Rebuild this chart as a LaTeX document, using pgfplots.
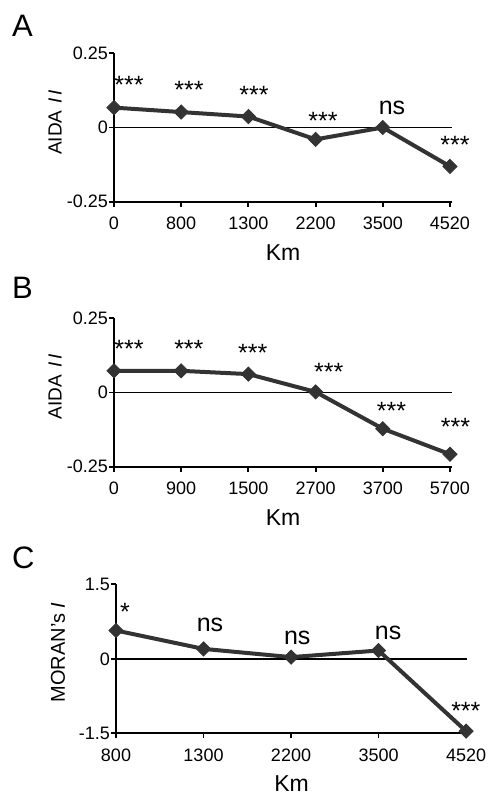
\documentclass[border=0pt]{standalone}
\usepackage{pgfplots}
\pgfplotsset{compat=1.18}
\usepackage{fontspec}
\setmainfont{Liberation Sans}
\definecolor{dg}{HTML}{333333}
\pgfplotsset{
  panel/.style={
    scale only axis, clip=false,
    axis x line=bottom, axis y line=left,
    axis line style={-, line width=1.9pt, black},
    tick style={line width=1.9pt, black},
    tick align=outside,
    major tick length=5pt,
    tick label style={font=\fontsize{18}{18}\selectfont},
    yticklabel style={inner sep=0pt, xshift=-1pt},
    xticklabel style={inner sep=0pt, yshift=-10pt},
    xlabel style={anchor=base, font=\fontsize{23}{23}\selectfont},
    ylabel style={anchor=center, font=\fontsize{19}{19}\selectfont},
  },
  dataline/.style={dg, line width=4pt, mark=square*, mark size=5pt,
    mark options={rotate=45, line width=0.8pt, fill=dg, solid}},
  zeroline/.style={black, line width=1.6pt, no marks, forget plot},
}
\tikzset{anno/.style={anchor=base, inner sep=0pt, font=\fontsize{25}{25}\selectfont},
  letter/.style={anchor=base west, inner sep=0pt, font=\fontsize{31}{31}\selectfont}}
\newcommand{\aida}{AIDA\hspace{7pt}\textit{I}\hspace{3pt}\textit{I}}
\begin{document}
\begin{tikzpicture}
\useasboundingbox (0pt,0pt) rectangle (490pt,-795pt);
\node[letter] at (12pt,-36pt) {A};
\node[letter] at (12pt,-298pt) {B};
\node[letter] at (12pt,-568pt) {C};

% Panel A
\begin{axis}[panel, at={(114pt,-201.7pt)}, anchor=south west,
  width=338pt, height=148.4pt,
  xmin=0, xmax=5.03, ymin=-0.25, ymax=0.25,
  xtick={0,1,2,3,4,5}, xticklabels={0,800,1300,2200,3500,4520},
  ytick={-0.25,0,0.25}, yticklabels={-0.25,0,0.25},
  xlabel={Km}, ylabel={\aida},
  xlabel style={at={(axis description cs:0.5,-0.393)}},
  ylabel style={at={(axis description cs:-0.1746,0.534)}}]
\addplot[zeroline] coordinates {(0,0) (5.03,0)};
\addplot[dataline] coordinates {(0,0.067) (1,0.052) (2,0.037) (3,-0.040) (4,0.0) (5,-0.131)};
\node[anno] at (axis cs:0.223,0.1132) {***};
\node[anno] at (axis cs:1.116,0.0986) {***};
\node[anno] at (axis cs:2.083,0.0794) {***};
\node[anno] at (axis cs:3.110,-0.0051) {***};
\node[anno] at (axis cs:4.137,0.0439) {ns};
\node[anno] at (axis cs:5.074,-0.0872) {***};
\end{axis}

% Panel B
\begin{axis}[panel, at={(114pt,-466.7pt)}, anchor=south west,
  width=338pt, height=148.4pt,
  xmin=0, xmax=5.03, ymin=-0.25, ymax=0.25,
  xtick={0,1,2,3,4,5}, xticklabels={0,900,1500,2700,3700,5700},
  ytick={-0.25,0,0.25}, yticklabels={-0.25,0,0.25},
  xlabel={Km}, ylabel={\aida},
  xlabel style={at={(axis description cs:0.5,-0.393)}},
  ylabel style={at={(axis description cs:-0.1746,0.539)}}]
\addplot[zeroline] coordinates {(0,0) (5.03,0)};
\addplot[dataline] coordinates {(0,0.073) (1,0.073) (2,0.062) (3,0.002) (4,-0.122) (5,-0.208)};
\node[anno] at (axis cs:0.223,0.118) {***};
\node[anno] at (axis cs:1.114,0.118) {***};
\node[anno] at (axis cs:2.065,0.104) {***};
\node[anno] at (axis cs:3.195,0.039) {***};
\node[anno] at (axis cs:4.131,-0.0905) {***};
\node[anno] at (axis cs:5.082,-0.1436) {***};
\end{axis}

% Panel C
\begin{axis}[panel, at={(116pt,-733.3pt)}, anchor=south west,
  width=351pt, height=149pt,
  xmin=0, xmax=4.011, ymin=-1.5, ymax=1.5,
  xtick={0,1,2,3,4}, xticklabels={800,1300,2200,3500,4520},
  ytick={-1.5,0,1.5}, yticklabels={-1.5,0,1.5},
  xlabel={Km}, ylabel={MORAN's \textit{I}},
  ylabel style={font=\fontsize{20}{20}\selectfont},
  xlabel style={at={(axis description cs:0.5,-0.392)}},
  ylabel style={at={(axis description cs:-0.165,0.542)}}]
\addplot[zeroline] coordinates {(0,0) (4.011,0)};
\addplot[dataline] coordinates {(0,0.57) (1,0.20) (2,0.034) (3,0.167) (4,-1.456)};
\node[anno] at (axis cs:0.103,0.765) {*};
\node[anno] at (axis cs:1.074,0.55) {ns};
\node[anno] at (axis cs:2.071,0.282) {ns};
\node[anno] at (axis cs:3.109,0.383) {ns};
\node[anno] at (axis cs:3.998,-1.232) {***};
\end{axis}
\end{tikzpicture}
\end{document}
